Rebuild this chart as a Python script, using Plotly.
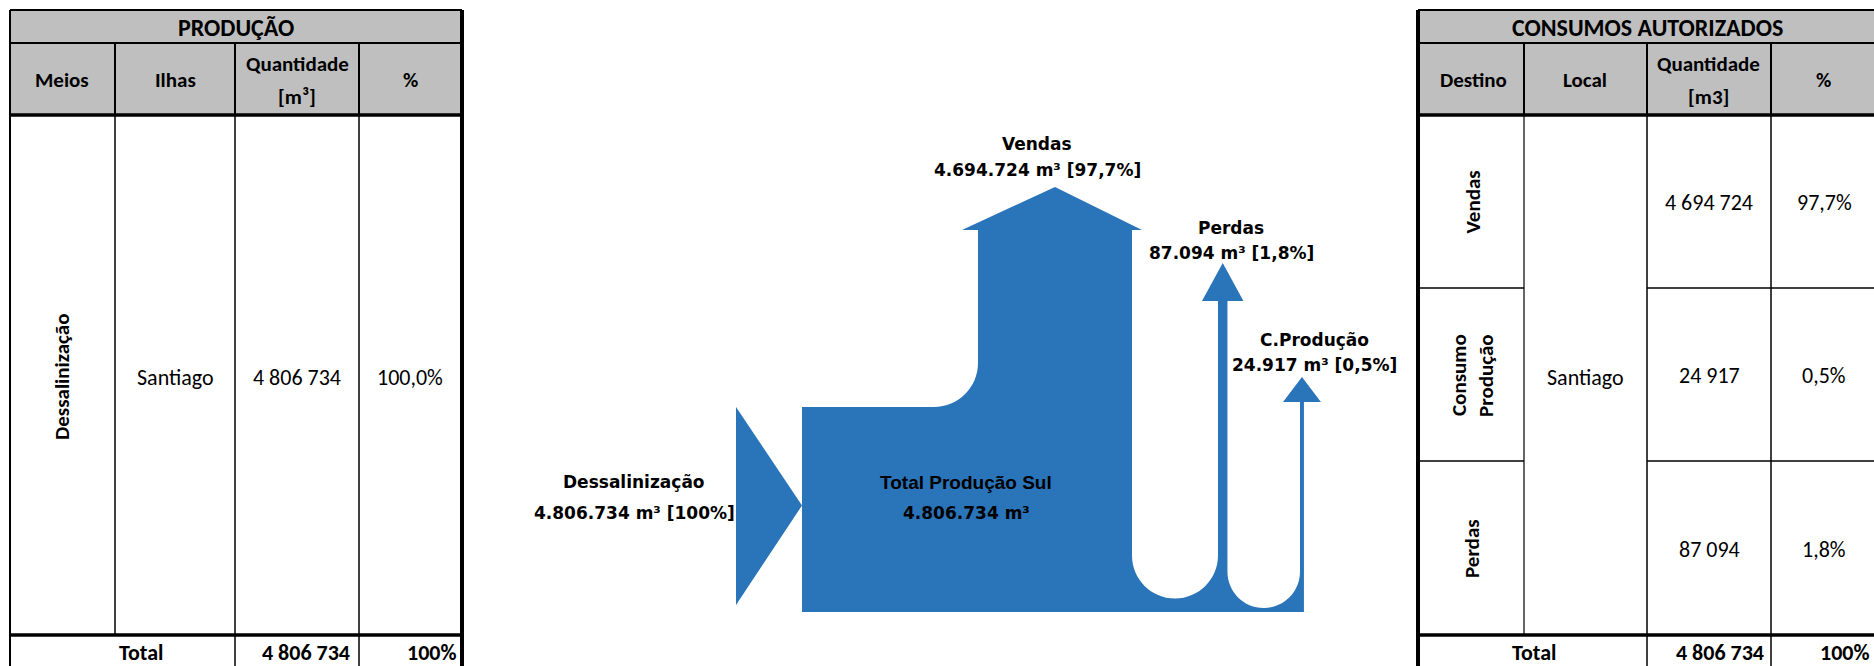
import plotly.graph_objects as go

# ---------------- data ----------------
prod_meios = ["Dessalinização"]
prod_ilhas = ["Santiago"]
prod_qtd = [4806734]
prod_pct = [100.0]

cons_destino = [["Vendas"], ["Consumo", "Produção"], ["Perdas"]]
cons_local = ["Santiago"]
cons_qtd = [4694724, 24917, 87094]
cons_pct = [97.7, 0.5, 1.8]

total_label = "Total"
total_qtd = 4806734
total_pct = 100

flow_names = ["Vendas", "Perdas", "C.Produção"]
flow_values = [4694724, 87094, 24917]
flow_pcts = [97.7, 1.8, 0.5]
source_name = "Dessalinização"
node_name = "Total Produção Sul"
source_value = 4806734
source_pct = 100


def fmt_space(n):
    return f"{n:,}".replace(",", " ")


def fmt_dot(n):
    return f"{n:,}".replace(",", ".")


def fmt_pct(p, dec=1):
    return f"{p:.{dec}f}".replace(".", ",") + "%"


# ---------------- styles ----------------
BLUE = "#2a74b9"
GRAY = "#bfbfbf"
TFONT = "Carlito, Lato"
DFONT = "DejaVu Sans"
NFONT = "Liberation Sans Narrow, Liberation Sans"

shapes = []
annotations = []


def hline(x0, x1, y, w):
    shapes.append(dict(type="line", xref="x", yref="y", x0=x0, x1=x1, y0=y, y1=y,
                       line=dict(color="black", width=w)))


def vline(x, y0, y1, w):
    shapes.append(dict(type="line", xref="x", yref="y", x0=x, x1=x, y0=y0, y1=y1,
                       line=dict(color="black", width=w)))


def text(x, y, s, size, bold=False, family=TFONT, angle=0, xanchor="center"):
    if bold:
        s = f"<b>{s}</b>"
    annotations.append(dict(x=x, y=y, xref="x", yref="y", text=s, showarrow=False,
                            xanchor=xanchor, yanchor="middle", textangle=angle,
                            font=dict(family=family, size=size, color="black")))


# font sizes of the tables
S_TITLE, S_HEAD, S_BODY, S_ROT = 24, 21, 22, 21
Y_TOTAL = 652

# ---------------- left table: PRODUÇÃO ----------------
LX = [10, 115, 235, 359, 462]
HY = [10, 43, 115]
BODY_BOT = 635
BOT = 670

shapes.append(dict(type="rect", xref="x", yref="y", x0=LX[0], x1=LX[-1], y0=HY[0], y1=HY[2],
                   fillcolor=GRAY, line=dict(width=0), layer="below"))
hline(LX[0], LX[-1], HY[0], 2)
hline(LX[0], LX[-1], HY[1], 2)
hline(LX[0], LX[-1], HY[2], 3.5)
hline(LX[0], LX[-1], BODY_BOT, 3.5)
vline(LX[0], HY[0], BOT, 2)
vline(LX[-1], HY[0], BOT, 4)
for x in LX[1:-1]:
    vline(x, HY[1], HY[2], 2)
vline(LX[1], HY[2], BODY_BOT, 1.5)
vline(LX[2], HY[2], BOT, 1.5)
vline(LX[3], HY[2], BOT, 1.5)

text((LX[0] + LX[-1]) / 2, 27, "PRODUÇÃO", S_TITLE, bold=True)
text(62, 80, "Meios", S_HEAD, bold=True)
text(175, 80, "Ilhas", S_HEAD, bold=True)
text(297, 64, "Quantidade", S_HEAD, bold=True)
text(297, 97, "[m³]", S_HEAD, bold=True)
text(410, 80, "%", S_HEAD, bold=True)

body_mid = 377
text(62, body_mid, prod_meios[0], S_ROT, bold=True, angle=-90)
text(175, body_mid, prod_ilhas[0], S_BODY)
text(297, body_mid, fmt_space(prod_qtd[0]), S_BODY)
text(410, body_mid, fmt_pct(prod_pct[0]), S_BODY)

text(141, Y_TOTAL, total_label, S_BODY, bold=True)
text(352, Y_TOTAL, fmt_space(total_qtd), S_BODY, bold=True, xanchor="right")
text(459, Y_TOTAL, f"{total_pct}%", S_BODY, bold=True, xanchor="right")

# ---------------- right table: CONSUMOS AUTORIZADOS ----------------
RX = [1418, 1524, 1647, 1771, 1874]
RY = [115, 288, 461, 635]

shapes.append(dict(type="rect", xref="x", yref="y", x0=RX[0], x1=RX[-1], y0=HY[0], y1=HY[2],
                   fillcolor=GRAY, line=dict(width=0), layer="below"))
hline(RX[0], RX[-1], HY[0], 2)
hline(RX[0], RX[-1], HY[1], 2)
hline(RX[0], RX[-1], HY[2], 3.5)
hline(RX[0], RX[-1], BODY_BOT, 3.5)
vline(RX[0], HY[0], BOT, 4)
for x in RX[1:-1]:
    vline(x, HY[1], HY[2], 2)
vline(RX[1], HY[2], BODY_BOT, 1.2)
vline(RX[2], HY[2], BOT, 1.5)
vline(RX[3], HY[2], BOT, 1.5)
for y in RY[1:-1]:
    hline(RX[0], RX[1], y, 1.5)
    hline(RX[2], RX[-1], y, 1.5)

text(1647, 27, "CONSUMOS AUTORIZADOS", S_TITLE, bold=True)
text(1473, 80, "Destino", S_HEAD, bold=True)
text(1585, 80, "Local", S_HEAD, bold=True)
text(1708, 64, "Quantidade", S_HEAD, bold=True)
text(1708, 97, "[m3]", S_HEAD, bold=True)
text(1823, 80, "%", S_HEAD, bold=True)

LINE_GAP = 27
for i in range(len(cons_qtd)):
    yc = (RY[i] + RY[i + 1]) / 2 + 1
    lines = cons_destino[i]
    x_first = 1472 - (len(lines) - 1) * LINE_GAP / 2
    for j, ln in enumerate(lines):
        text(x_first + j * LINE_GAP, yc, ln, S_ROT, bold=True, angle=-90)
    text(1709, yc, fmt_space(cons_qtd[i]), S_BODY)
    text(1824, yc, fmt_pct(cons_pct[i]), S_BODY)
text(1585, body_mid, cons_local[0], S_BODY)

text(1534, Y_TOTAL, total_label, S_BODY, bold=True)
text(1766, Y_TOTAL, fmt_space(total_qtd), S_BODY, bold=True, xanchor="right")
text(1872, Y_TOTAL, f"{total_pct}%", S_BODY, bold=True, xanchor="right")

# ---------------- flow diagram ----------------
# band widths follow a power scale of the flow volumes
EXP = 0.7
K = 154 / flow_values[0] ** EXP
wV, wP, wC = [K * v ** EXP for v in flow_values]

X_IN, X0 = 736, 802          # inlet triangle base, body left edge
Y_TOP, Y_BOT = 407, 612      # body top/bottom
XV = 978                     # Vendas stem left
XP = 1218                    # Perdas stem left
XC = 1300                    # C.Produção stem left
R_SH = 44                    # shoulder fillet radius
KB = 0.5523                  # bezier circle constant

YV_HEAD, YV_TIP, OVL, OVR = 230, 187, 16, 10
YP_HEAD, YP_TIP, OP = 301, 263, 16
YC_HEAD, YC_TIP, OC = 402, 377, 17


def u_turn(xa, xb, ybot):
    """Path segment: down the left side, round the bottom, up to (xb, yc)."""
    r = (xb - xa) / 2
    yc = ybot - r
    mid = (xa + xb) / 2
    return (f"L{xa},{yc} "
            f"C{xa},{yc + KB * r} {mid - KB * r},{ybot} {mid},{ybot} "
            f"C{mid + KB * r},{ybot} {xb},{yc + KB * r} {xb},{yc} ")


xv_r = XV + wV
xp_r = XP + wP
xc_r = XC + wC
u1_bot = Y_BOT - (wP + wC)
u2_bot = Y_BOT - wC

body = (
    f"M{X0},{Y_TOP} L{XV - R_SH},{Y_TOP} "
    f"C{XV - R_SH + KB * R_SH},{Y_TOP} {XV},{Y_TOP - R_SH + KB * R_SH} {XV},{Y_TOP - R_SH} "
    f"L{XV},{YV_HEAD} L{XV - OVL},{YV_HEAD} L{(XV + xv_r) / 2},{YV_TIP} "
    f"L{xv_r + OVR},{YV_HEAD} L{xv_r},{YV_HEAD} "
    + u_turn(xv_r, XP, u1_bot)
    + f"L{XP},{YP_HEAD} L{XP - OP},{YP_HEAD} L{(XP + xp_r) / 2},{YP_TIP} "
    f"L{xp_r + OP},{YP_HEAD} L{xp_r},{YP_HEAD} "
    + u_turn(xp_r, XC, u2_bot)
    + f"L{XC},{YC_HEAD} L{XC - OC},{YC_HEAD} L{(XC + xc_r) / 2},{YC_TIP} "
    f"L{xc_r + OC},{YC_HEAD} L{xc_r},{YC_HEAD} "
    f"L{xc_r},{Y_BOT} L{X0},{Y_BOT} Z"
)
shapes.append(dict(type="path", xref="x", yref="y", path=body, fillcolor=BLUE,
                   line=dict(width=0)))

inlet = f"M{X_IN},{Y_TOP} L{X_IN},{Y_BOT - 7} L{X0},{(Y_TOP + Y_BOT) / 2 - 4} Z"
shapes.append(dict(type="path", xref="x", yref="y", path=inlet, fillcolor=BLUE,
                   line=dict(width=0)))

# diagram labels
S_LAB = 17
text(634, 482, source_name, S_LAB, bold=True, family=DFONT)
text(634, 513, f"{fmt_dot(source_value)} m³ [{source_pct}%]", S_LAB, bold=True, family=DFONT)
text(966, 482, node_name, 19, bold=True, family=NFONT)
text(966, 513, f"{fmt_dot(source_value)} m³", S_LAB, bold=True, family=DFONT)

label_pos = [(1037, 144, 170), (1231, 228, 253), (1314, 340, 365)]
for name, val, pct, (x, y1, y2) in zip(flow_names, flow_values, flow_pcts, label_pos):
    text(x, y1, name, S_LAB, bold=True, family=DFONT)
    text(x, y2, f"{fmt_dot(val)} m³ [{fmt_pct(pct)}]", S_LAB, bold=True, family=DFONT)

# ---------------- figure ----------------
fig = go.Figure(go.Scatter(x=[0], y=[0], mode="markers", marker=dict(opacity=0),
                           hoverinfo="skip", showlegend=False))
fig.update_layout(
    width=1874, height=666, autosize=False,
    margin=dict(l=0, r=0, t=0, b=0),
    paper_bgcolor="white", plot_bgcolor="white",
    xaxis=dict(range=[0, 1874], visible=False, fixedrange=True),
    yaxis=dict(range=[666, 0], visible=False, fixedrange=True),
    shapes=shapes, annotations=annotations, showlegend=False,
)
fig.write_html("out.html", config=dict(displayModeBar=False))
